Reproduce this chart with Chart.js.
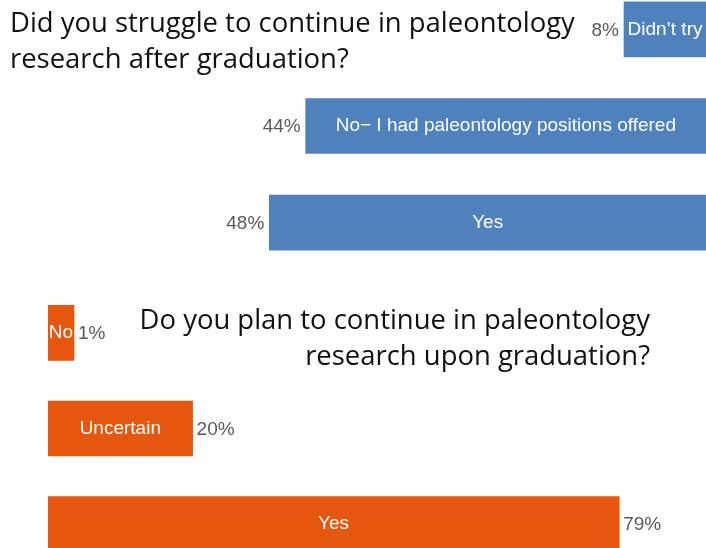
<!DOCTYPE html>
<html>
<head>
<meta charset="utf-8">
<script src="https://cdn.jsdelivr.net/npm/chart.js@4.4.1/dist/chart.umd.min.js"></script>
<style>
  html, body { margin: 0; padding: 0; width: 706px; height: 548px; overflow: hidden; background: #ffffff; }
  #wrap { position: relative; width: 706px; height: 548px; overflow: hidden; }
  .cv { position: absolute; }
  .title { position: absolute; font-family: "Open Sans", "Noto Sans", sans-serif; color: #111; white-space: nowrap; z-index: 5; line-height: 36px; }
  #t1 { left: 10px; top: 4px; text-align: left; }
  #t2 { right: 56px; top: 301px; text-align: right; }
</style>
</head>
<body>
<div id="wrap">
  <canvas id="c1" class="cv" width="706" height="290" style="left:0;top:-19px;width:706px;height:290px;"></canvas>
  <canvas id="c2" class="cv" width="658" height="287" style="left:48px;top:285px;width:658px;height:287px;"></canvas>
  <div id="t1" class="title">Did you struggle to continue in paleontology<br>research after graduation?</div>
  <div id="t2" class="title">Do you plan to continue in paleontology<br>research upon graduation?</div>
</div>
<script>
// ---- data ----
const topCategories = ["Didn\u2019t try", "No\u2212 I had paleontology positions offered", "Yes"];
const topValues = [8, 44, 48];
const bottomCategories = ["No", "Uncertain", "Yes"];
const bottomValues = [1, 20, 79];

const BLUE = "#4F81BD";
const ORANGE = "#E5560F";

// fit title font size to the reference width
(function fitTitles() {
  const c = document.createElement("canvas").getContext("2d");
  c.font = '100px "Open Sans"';
  const w = c.measureText("Did you struggle to continue in paleontology").width;
  const size = 100 * 565 / w;
  document.getElementById("t1").style.fontSize = size + "px";
  document.getElementById("t2").style.fontSize = size + "px";
})();

const barLabels = {
  id: "barLabels",
  afterDatasetsDraw(chart, args, opts) {
    const ctx = chart.ctx;
    const meta = chart.getDatasetMeta(0);
    const ds = chart.data.datasets[0];
    ctx.save();
    meta.data.forEach((bar, i) => {
      const p = bar.getProps(["x", "y", "base"], true);
      const cx = (p.x + p.base) / 2;
      ctx.font = '19px "Liberation Sans", Arial, sans-serif';
      ctx.fillStyle = "#ffffff";
      ctx.textAlign = "center";
      ctx.textBaseline = "middle";
      ctx.fillText(chart.data.labels[i], cx, p.y);
      ctx.font = '19px "Liberation Sans", Arial, sans-serif';
      ctx.fillStyle = "#595959";
      const txt = ds.data[i] + "%";
      if (opts.side === "left") {
        ctx.textAlign = "right";
        ctx.fillText(txt, Math.min(p.x, p.base) - 5, p.y + 1);
      } else {
        ctx.textAlign = "left";
        ctx.fillText(txt, Math.max(p.x, p.base) + 4, p.y + 1);
      }
    });
    ctx.restore();
  }
};

function makeChart(id, labels, values, color, reverse, max, minLen, side) {
  return new Chart(document.getElementById(id), {
    type: "bar",
    data: {
      labels: labels,
      datasets: [{
        data: values,
        backgroundColor: color,
        borderWidth: 0,
        barThickness: 55,
        minBarLength: minLen
      }]
    },
    options: {
      indexAxis: "y",
      responsive: false,
      animation: false,
      layout: { padding: 0 },
      plugins: {
        legend: { display: false },
        tooltip: { enabled: false },
        title: { display: false },
        barLabels: { side: side }
      },
      scales: {
        x: { display: false, min: 0, max: max, reverse: reverse, grid: { display: false } },
        y: { display: false, grid: { display: false } }
      }
    },
    plugins: [barLabels]
  });
}

makeChart("c1", topCategories, topValues, BLUE, true, 77.6, 82, "left");
makeChart("c2", bottomCategories, bottomValues, ORANGE, false, 91, 26, "right");
</script>
</body>
</html>
